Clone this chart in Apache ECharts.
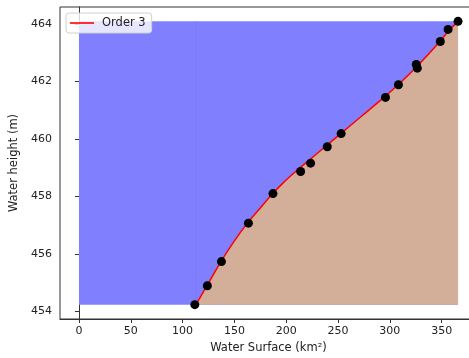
<!DOCTYPE html>
<html><head><meta charset="utf-8">
<script src="https://cdn.jsdelivr.net/npm/echarts@6/dist/echarts.min.js"></script>
<style>html,body{margin:0;padding:0;background:#fff}#c{width:469px;height:358px}</style>
</head><body><div id="c"></div>
<script>
// observed points (water surface km², water height m)
const obsX = [111.8,123.9,137.5,163.5,187.2,213.9,223.5,239.6,253.0,295.8,308.3,325.5,326.5,348.7,356.2,365.8];
const obsY = [454.23,454.89,455.73,457.07,458.10,458.87,459.16,459.73,460.19,461.45,461.89,462.6,462.47,463.40,463.82,464.1];
// order-3 fit curve
const fitX = [112.3,123.5,137,149,162.5,175,187,197.8,209.1,218.7,237.5,252.7,273.5,294.3,307.9,326.1,348.3,358,365.8];
const fitY = [454.2,454.89,455.73,456.4,457.07,457.6,458.1,458.5,458.87,459.16,459.73,460.19,460.82,461.45,461.89,462.53,463.4,463.82,464.1];
const xTicks = [0,50,100,150,200,250,300,350];
const yTicks = [454,456,458,460,462,464];
const fillLeft = 0, fillRight = 365.8, fillBottom = 454.23, fillTop = 464.1, blueSeamX = 113;
const xMin = -18.3, xMax = 384.1, yMin = 453.73, yMax = 464.6;

const fitData = fitX.map((x,i)=>[x, fitY[i]]);
const obsData = obsX.map((x,i)=>[x, obsY[i]]);
const tickFont = {fontFamily:'DejaVu Sans', fontSize:11, color:'#222'};
const nameFont = {fontFamily:'DejaVu Sans', fontSize:11.5, color:'#222'};

const chart = echarts.init(document.getElementById('c'), null, {renderer:'canvas'});
chart.setOption({
  animation:false,
  backgroundColor:'#fff',
  grid:{left:60, top:7, right:-8, bottom:39, show:true, borderColor:'#333', borderWidth:1, backgroundColor:'transparent', containLabel:false, outerBoundsMode:'none'},
  legend:{
    data:[{name:'Order 3', icon:'rect'}],
    left:66, top:13, orient:'horizontal',
    itemWidth:24, itemHeight:1.6,
    padding:[4,6,4,4],
    backgroundColor:'rgba(255,255,255,0.8)', borderColor:'#d0d0d0', borderWidth:1, borderRadius:3,
    textStyle:{fontFamily:'DejaVu Sans', fontSize:11.5, color:'#222', padding:[0,0,0,3]}
  },
  xAxis:{
    type:'value', min:xMin, max:xMax,
    name:'Water Surface (km²)', nameLocation:'middle', nameGap:18,
    nameTextStyle:nameFont,
    axisLine:{show:true, lineStyle:{color:'#333', width:1}},
    axisTick:{show:true, length:4, lineStyle:{color:'#333'}, customValues:xTicks},
    axisLabel:Object.assign({margin:7, customValues:xTicks}, tickFont),
    splitLine:{show:false}
  },
  yAxis:{
    type:'value', min:yMin, max:yMax,
    name:'Water height (m)', nameLocation:'middle', nameGap:34, nameRotate:90,
    nameTextStyle:nameFont,
    axisLine:{show:true, lineStyle:{color:'#333', width:1}},
    axisTick:{show:true, length:4, lineStyle:{color:'#333'}, customValues:yTicks},
    axisLabel:Object.assign({margin:8, customValues:yTicks}, tickFont),
    splitLine:{show:false}
  },
  series:[
    {
      type:'custom', name:'water', coordinateSystem:'cartesian2d', silent:true, z:1,
      data:[[fillLeft, fillBottom]],
      renderItem:(params, api)=>{
        const p1 = api.coord([fillLeft, fillTop]);
        const p2 = api.coord([fillRight, fillBottom]);
        const s = api.coord([blueSeamX, fillTop]);
        return {type:'group', children:[
          {type:'rect', shape:{x:p1[0], y:p1[1], width:p2[0]-p1[0], height:p2[1]-p1[1]}, style:{fill:'#8080ff'}},
          {type:'line', shape:{x1:s[0], y1:p1[1], x2:s[0], y2:p2[1]}, style:{stroke:'rgba(90,90,230,0.25)', lineWidth:1}}
        ]};
      }
    },
    {
      type:'custom', name:'ground', coordinateSystem:'cartesian2d', silent:true, z:2,
      data:[[fillRight, fillBottom]],
      renderItem:(params, api)=>{
        const pts = fitData.map(p=>api.coord(p));
        pts.push(api.coord([fillRight, fillTop]));
        pts.push(api.coord([fillRight, fillBottom]));
        pts.push(api.coord([fitX[0], fillBottom]));
        return {type:'polygon', shape:{points:pts}, style:{fill:'#d3ae99'}};
      }
    },
    {
      type:'line', name:'Order 3', data:fitData, showSymbol:false, z:3, smooth:0.3,
      color:'#ff0000', lineStyle:{color:'#ff0000', width:1.5}, itemStyle:{color:'#ff0000'}
    },
    {
      type:'scatter', name:'obs', data:obsData, symbolSize:9, z:4,
      itemStyle:{color:'#000', opacity:1}
    }
  ]
});
</script>
</body></html>
